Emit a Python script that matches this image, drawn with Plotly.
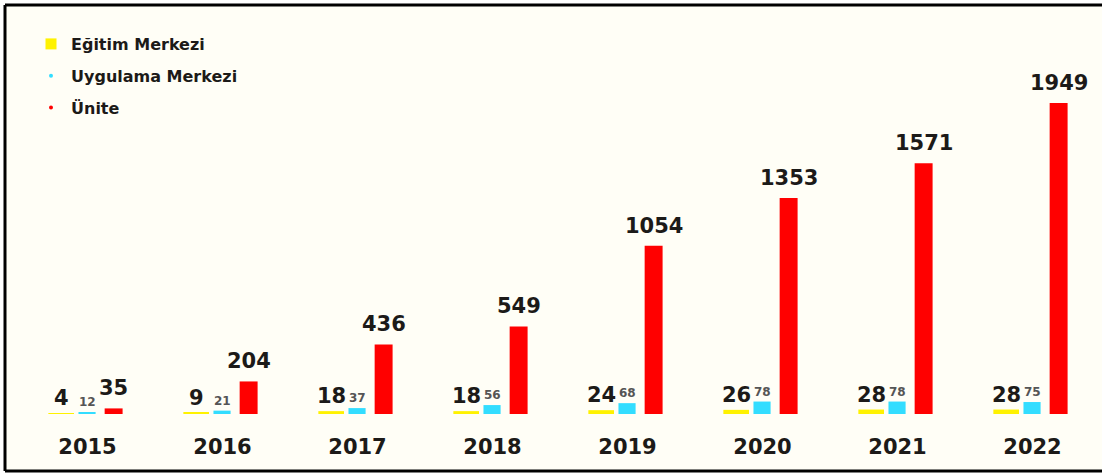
import plotly.graph_objects as go

years = ["2015", "2016", "2017", "2018", "2019", "2020", "2021", "2022"]
egitim = [4, 9, 18, 18, 24, 26, 28, 28]
uygulama = [12, 21, 37, 56, 68, 78, 78, 75]
unite = [35, 204, 436, 549, 1054, 1353, 1571, 1949]

names = ["Eğitim Merkezi", "Uygulama Merkezi", "Ünite"]
colors = ["#FFF200", "#33DDFF", "#FF0000"]

# bar geometry (category units)
offs = [-0.29, -0.067, 0.127]
widths = [0.19, 0.127, 0.133]

FONT = "DejaVu Sans"
TXT = "#1c1a18"

fig = go.Figure()
series = [egitim, uygulama, unite]
for k in range(3):
    fig.add_trace(go.Bar(
        x=list(range(len(years))), y=series[k], name=names[k],
        marker=dict(color=colors[k], line=dict(width=0)),
        offset=offs[k], width=widths[k], showlegend=False,
    ))

# legend entries
leg_sym = ["square", "circle", "circle"]
leg_size = [11, 4, 4]
for k in range(3):
    fig.add_trace(go.Scatter(
        x=[None], y=[None], mode="markers", name=f"<b>{names[k]}</b>",
        legendgroup=f"g{k}",
        marker=dict(color=colors[k], size=leg_size[k], symbol=leg_sym[k]),
    ))

annotations = []
label_font = [dict(family=FONT, size=21, color=TXT),
              dict(family=FONT, size=12, color="#555"),
              dict(family=FONT, size=21, color=TXT)]
yshift = [1, 1, 6]
for k in range(3):
    cx = offs[k] + widths[k] / 2
    for i, v in enumerate(series[k]):
        annotations.append(dict(
            x=i + cx, y=v, xref="x", yref="y", text=f"<b>{v}</b>",
            showarrow=False, yanchor="bottom", xanchor="center",
            yshift=yshift[k], font=label_font[k],
        ))

L, T, W, H = 20, 60, 1080, 354
def px(xp):
    return (xp - L) / W
def py(yp):
    return (T + H - yp) / H

border = dict(color="black", width=3)
shapes = [
    dict(type="rect", xref="paper", yref="paper",
         x0=px(5), x1=px(1102), y0=py(471), y1=py(5),
         line=dict(width=0), fillcolor="#FFFEF6", layer="below"),
    dict(type="line", xref="paper", yref="paper",
         x0=px(5), x1=px(1102), y0=py(5), y1=py(5), line=border, layer="below"),
    dict(type="line", xref="paper", yref="paper",
         x0=px(5), x1=px(1102), y0=py(471), y1=py(471), line=border, layer="below"),
    dict(type="line", xref="paper", yref="paper",
         x0=px(5), x1=px(5), y0=py(471), y1=py(5), line=border, layer="below"),
]

fig.update_layout(
    width=1102, height=474,
    margin=dict(l=L, r=1102 - L - W, t=T, b=474 - T - H),
    paper_bgcolor="white", plot_bgcolor="rgba(0,0,0,0)",
    barmode="overlay",
    font=dict(family=FONT, color=TXT),
    xaxis=dict(
        range=[-0.5, 7.5], tickmode="array",
        tickvals=list(range(len(years))), ticktext=[f"<b>{y}</b>" for y in years],
        tickfont=dict(family=FONT, size=21, color=TXT),
        showgrid=False, zeroline=False, showline=False, ticks="",
        ticklabelstandoff=18,
    ),
    yaxis=dict(range=[0, 2218], visible=False, showgrid=False, zeroline=False),
    showlegend=True,
    legend=dict(
        x=px(31), y=py(27), xanchor="left", yanchor="top",
        bgcolor="rgba(0,0,0,0)", borderwidth=0,
        font=dict(family=FONT, size=16, color=TXT),
        tracegroupgap=8, itemsizing="trace",
    ),
    shapes=shapes,
    annotations=annotations,
)

fig.write_html("out.html", config={"displayModeBar": False},
               post_script="document.body.style.margin='0px';document.body.style.overflow='hidden';")
